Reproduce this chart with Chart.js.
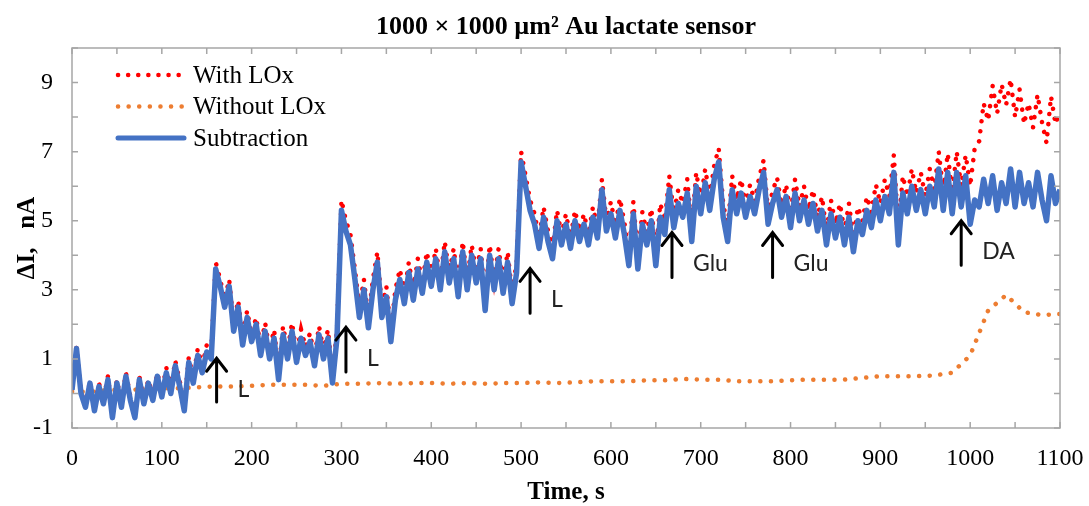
<!DOCTYPE html>
<html>
<head>
<meta charset="utf-8">
<script src="https://cdn.jsdelivr.net/npm/chart.js@4.4.1/dist/chart.umd.min.js"></script>
<style>
  html, body { margin: 0; padding: 0; background: #fff; }
  #wrap { width: 1089px; height: 506px; }
</style>
</head>
<body>
<div id="wrap"><canvas id="chart"></canvas></div>
<script>
// sampling: blue/red every 5 s, orange every 20 s
const timeStep = 5;
const orangeStep = 20;

const subtraction = [
  0.1, 1.3, 0.0, -0.4, 0.3, -0.5, 0.2, -0.3, 0.4, -0.7,
  0.3, -0.4, 0.5, -0.2, -0.7, 0.4, -0.3, 0.3, -0.2, 0.5,
  -0.1, 0.6, 0.0, 0.8, 0.2, -0.5, 0.9, 0.3, 1.1, 0.6,
  1.2, 1.0, 3.6, 3.1, 2.5, 3.1, 1.8, 2.5, 1.4, 2.2,
  1.5, 2.0, 1.1, 1.8, 1.0, 1.6, 0.4, 1.7, 1.0, 1.8,
  0.9, 1.6, 1.1, 1.5, 0.8, 1.7, 1.0, 1.6, 0.3, 1.6,
  5.3, 4.7, 4.3, 3.3, 2.2, 3.0, 1.9, 3.0, 3.8, 2.2,
  2.8, 1.5, 2.7, 3.3, 2.6, 3.5, 2.7, 3.6, 2.9, 3.8,
  3.1, 3.9, 3.0, 4.1, 3.2, 3.9, 2.8, 4.1, 3.0, 4.0,
  3.2, 3.9, 2.4, 4.0, 3.0, 3.9, 2.9, 3.8, 2.6, 3.5,
  6.7, 6.0, 5.3, 4.9, 4.2, 5.1, 4.4, 3.9, 5.0, 4.3,
  4.9, 4.2, 5.0, 4.4, 4.9, 4.3, 5.1, 4.5, 5.9, 4.7,
  5.2, 4.5, 5.3, 4.6, 3.7, 5.2, 3.6, 4.9, 4.3, 5.0,
  3.7, 5.1, 4.6, 5.9, 4.8, 5.5, 5.1, 5.8, 4.4, 6.0,
  5.2, 6.1, 5.3, 6.2, 6.7, 5.1, 4.4, 5.9, 5.2, 5.8,
  5.1, 5.7, 5.2, 5.9, 6.4, 4.9, 5.5, 5.9, 5.1, 5.7,
  4.8, 5.8, 5.0, 5.6, 4.9, 5.5, 4.7, 5.3, 4.3, 5.2,
  4.5, 5.1, 4.3, 5.1, 4.1, 5.0, 4.6, 5.3, 4.8, 5.6,
  5.0, 5.7, 5.2, 6.4, 4.3, 5.8, 5.2, 6.0, 5.3, 5.9,
  5.2, 6.0, 5.4, 6.5, 5.3, 6.4, 5.2, 6.4, 5.4, 6.3,
  4.9, 5.6, 5.4, 6.2, 5.5, 6.3, 5.3, 6.1, 5.5, 6.5,
  5.4, 6.4, 5.5, 6.1, 5.4, 6.4, 5.6, 5.0, 6.3, 5.5,
  5.9
];

const withLOx = [
  0.15, 1.35, 0.05, -0.35, 0.35, -0.45, 0.3, -0.2, 0.5, -0.6,
  0.4, -0.3, 0.6, -0.1, -0.6, 0.5, -0.2, 0.4, -0.1, 0.6,
  0.05, 0.75, 0.15, 0.95, 0.35, -0.35, 1.05, 0.45, 1.3, 0.8,
  1.4, 1.2, 3.8, 3.3, 2.7, 3.3, 2.0, 2.7, 1.6, 2.4,
  1.7, 2.2, 1.35, 2.05, 1.25, 1.85, 0.65, 1.95, 1.25, 2.05,
  1.15, 1.85, 1.35, 1.75, 1.05, 1.95, 1.25, 1.85, 0.5, 1.85,
  5.6, 5.0, 4.6, 3.6, 2.5, 3.3, 2.2, 3.3, 4.1, 2.5,
  3.1, 1.8, 3.0, 3.6, 2.9, 3.8, 3.0, 3.9, 3.2, 4.1,
  3.4, 4.2, 3.3, 4.4, 3.5, 4.2, 3.1, 4.4, 3.3, 4.3,
  3.5, 4.2, 2.7, 4.3, 3.3, 4.2, 3.2, 4.1, 2.9, 3.8,
  7.0, 6.3, 5.6, 5.2, 4.5, 5.4, 4.7, 4.2, 5.3, 4.6,
  5.2, 4.5, 5.3, 4.7, 5.2, 4.6, 5.4, 4.8, 6.2, 5.0,
  5.55, 4.85, 5.65, 4.95, 4.05, 5.55, 3.95, 5.25, 4.65, 5.35,
  4.1, 5.5, 5.0, 6.3, 5.2, 5.9, 5.5, 6.2, 4.8, 6.4,
  5.6, 6.5, 5.7, 6.6, 7.1, 5.5, 4.8, 6.3, 5.6, 6.2,
  5.45, 6.05, 5.55, 6.25, 6.75, 5.25, 5.85, 6.25, 5.45, 6.05,
  5.2, 6.2, 5.4, 6.0, 5.3, 5.9, 5.1, 5.7, 4.7, 5.6,
  4.9, 5.5, 4.7, 5.5, 4.5, 5.4, 5.0, 5.7, 5.25, 6.05,
  5.5, 6.2, 5.7, 6.9, 4.8, 6.3, 5.7, 6.5, 5.8, 6.4,
  5.7, 6.5, 5.9, 7.0, 5.85, 6.95, 5.8, 7.0, 6.0, 6.9,
  6.0, 7.1, 7.3, 8.4, 7.9, 8.9, 8.1, 8.95, 8.35, 9.1,
  8.0, 8.8, 7.8, 8.4, 7.7, 8.65, 7.85, 7.25, 8.6, 7.8,
  8.2
];

const withoutLOx = [
  0.05, 0.05, 0.1, 0.1, 0.12, 0.15, 0.15, 0.18, 0.2, 0.2,
  0.22, 0.25, 0.25, 0.25, 0.22, 0.28, 0.28, 0.3, 0.28, 0.3,
  0.3, 0.28, 0.3, 0.28, 0.3, 0.3, 0.32, 0.3, 0.32, 0.35,
  0.35, 0.35, 0.38, 0.38, 0.42, 0.4, 0.4, 0.35, 0.35, 0.35,
  0.38, 0.4, 0.4, 0.4, 0.45, 0.5, 0.5, 0.5, 0.52, 0.6,
  1.1, 2.4, 2.85, 2.35, 2.27, 2.3
];

// injection markers: time, arrow bottom/top (nA), label
const markerTimes = [161, 305, 510, 668, 780, 990];
const markerLow = [-0.25, 0.62, 2.32, 3.36, 3.36, 3.71];
const markerHigh = [1.02, 1.92, 3.62, 4.66, 4.66, 5.0];
const markerLabels = ['L', 'L', 'L', 'Glu', 'Glu', 'DA'];

const toXY = (vals, step) => vals.map((v, i) => ({ x: i * step, y: v }));

const SERIF = '"Liberation Serif", "Times New Roman", serif';

const boxPlugin = {
  id: 'box',
  afterDraw(chart) {
    const { ctx, chartArea: a, scales } = chart;
    ctx.save();
    ctx.strokeStyle = '#a6a6a6';
    ctx.lineWidth = 1.5;
    ctx.strokeRect(a.left, a.top, a.right - a.left, a.bottom - a.top);
    const tl = 6;
    ctx.beginPath();
    scales.y.ticks.forEach(t => {
      const py = scales.y.getPixelForValue(t.value);
      ctx.moveTo(a.left, py); ctx.lineTo(a.left + tl, py);
      ctx.moveTo(a.right, py); ctx.lineTo(a.right - tl, py);
    });
    scales.x.ticks.forEach(t => {
      const px = scales.x.getPixelForValue(t.value);
      ctx.moveTo(px, a.bottom); ctx.lineTo(px, a.bottom - tl);
      ctx.moveTo(px, a.top); ctx.lineTo(px, a.top + tl);
    });
    ctx.stroke();
    ctx.restore();
  }
};

const markerPlugin = {
  id: 'markers',
  afterDatasetsDraw(chart) {
    const { ctx, scales } = chart;
    ctx.save();
    ctx.strokeStyle = '#000';
    ctx.fillStyle = '#222';
    ctx.lineWidth = 3;
    ctx.lineCap = 'round';
    ctx.font = '23px Lato, "Noto Sans", sans-serif';
    ctx.textBaseline = 'middle';
    markerTimes.forEach((t, i) => {
      const px = scales.x.getPixelForValue(t);
      const y0 = scales.y.getPixelForValue(markerLow[i]);
      const y1 = scales.y.getPixelForValue(markerHigh[i]);
      ctx.beginPath();
      ctx.moveTo(px, y0); ctx.lineTo(px, y1);
      ctx.moveTo(px - 10, y1 + 13); ctx.lineTo(px, y1); ctx.lineTo(px + 10, y1 + 13);
      ctx.stroke();
      ctx.fillText(markerLabels[i], px + 21, (y0 + y1) / 2 + 9);
    });
    ctx.restore();
  }
};

const legendPlugin = {
  id: 'innerLegend',
  afterDraw(chart) {
    const { ctx, chartArea: a } = chart;
    const order = [1, 2, 0];
    ctx.save();
    ctx.font = '25px ' + SERIF;
    ctx.textBaseline = 'middle';
    ctx.fillStyle = '#000';
    order.forEach((di, row) => {
      const ds = chart.data.datasets[di];
      const y = a.top + 27 + row * 31.5;
      const x0 = a.left + 46, x1 = a.left + 112;
      ctx.beginPath();
      ctx.strokeStyle = ds.borderColor;
      ctx.lineWidth = Math.min(ds.borderWidth, 5);
      ctx.lineCap = 'round';
      ctx.setLineDash(ds.borderDash || []);
      ctx.moveTo(x0, y); ctx.lineTo(x1, y);
      ctx.stroke();
      ctx.setLineDash([]);
      ctx.fillText(ds.label, a.left + 121, y + 1);
    });
    ctx.restore();
  }
};

new Chart(document.getElementById('chart'), {
  type: 'line',
  data: {
    datasets: [
      {
        label: 'Subtraction',
        data: toXY(subtraction, timeStep),
        borderColor: '#4472C4',
        borderWidth: 5.5,
        pointRadius: 0,
        borderJoinStyle: 'round',
        order: 0
      },
      {
        label: 'With LOx',
        data: toXY(withLOx, timeStep),
        borderColor: '#FF0000',
        borderWidth: 4.5,
        borderDash: [0.1, 10],
        borderCapStyle: 'round',
        pointRadius: 0,
        order: 1
      },
      {
        label: 'Without LOx',
        data: toXY(withoutLOx, orangeStep),
        borderColor: '#ED7D31',
        borderWidth: 4.5,
        borderDash: [0.1, 10.5],
        borderCapStyle: 'round',
        pointRadius: 0,
        order: 2
      }
    ]
  },
  options: {
    responsive: true,
    maintainAspectRatio: false,
    animation: false,
    layout: { padding: { left: 0, right: 29, top: 0, bottom: 0 } },
    plugins: {
      legend: { display: false },
      tooltip: { enabled: false },
      title: {
        display: true,
        fullSize: false,
        text: '1000 × 1000 µm² Au lactate sensor',
        color: '#000',
        font: { family: SERIF, size: 26, weight: 'bold', lineHeight: 1.2 },
        padding: { top: 12, bottom: 4.8 }
      }
    },
    scales: {
      x: {
        type: 'linear',
        min: 0,
        max: 1100,
        grid: { display: false, drawTicks: false },
        border: { display: false },
        ticks: {
          stepSize: 50,
          autoSkip: false,
          maxRotation: 0,
          color: '#000',
          padding: 16,
          font: { family: SERIF, size: 24 },
          callback: v => (v % 100 === 0 ? v : '')
        },
        title: {
          display: true,
          text: 'Time, s',
          color: '#000',
          font: { family: SERIF, size: 25, weight: 'bold', lineHeight: 1 },
          padding: { top: 0, bottom: 1 }
        },
        afterFit: s => { s.height = 78; s.paddingLeft = 0; s.paddingRight = 0; }
      },
      y: {
        min: -1,
        max: 10,
        grid: { display: false, drawTicks: false },
        border: { display: false },
        ticks: {
          stepSize: 1,
          autoSkip: false,
          color: '#000',
          padding: 19,
          font: { family: SERIF, size: 24 },
          callback: v => (Math.abs(v % 2) === 1 ? v : '')
        },
        title: {
          display: true,
          text: 'ΔI,   nA',
          color: '#000',
          font: { family: SERIF, size: 25, weight: 'bold', lineHeight: 1 },
          padding: { top: 15, bottom: 0 }
        },
        afterFit: s => { s.width = 72; s.paddingTop = 0; s.paddingBottom = 0; }
      }
    }
  },
  plugins: [boxPlugin, markerPlugin, legendPlugin]
});
</script>
</body>
</html>
